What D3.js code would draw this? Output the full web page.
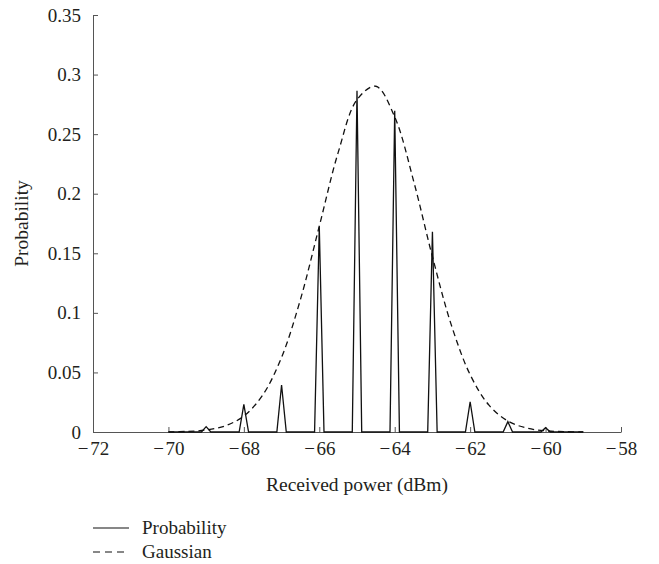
<!DOCTYPE html>
<html>
<head>
<meta charset="utf-8">
<script src="https://cdn.jsdelivr.net/npm/d3@7"></script>
<style>
  body { margin: 0; background: #fff; }
  text { font-family: "Liberation Serif", "DejaVu Serif", serif; fill: #231f20; }
  .axis path, .axis line { stroke: #555; }
</style>
</head>
<body>
<div id="chart"></div>
<script>
// Data
// =================================
var powerLevels = [-70, -69, -68, -67, -66, -65, -64, -63, -62, -61, -60, -59];
var probValues = [0, 0.0045, 0.0232, 0.0394, 0.1723, 0.2865, 0.2697, 0.168, 0.0254, 0.0087, 0.0036, 0];

var gaussX = [-70, -69.5, -69, -68.5, -68, -67.5, -67, -66.5, -66, -65.5, -65, -64.5,
  -64, -63.5, -63, -62.5, -62, -61.5, -61, -60.5, -60, -59.5, -59];
var gaussY = [0.0001, 0.0005, 0.0017, 0.0051, 0.0134, 0.031, 0.0627, 0.1112, 0.1727, 0.2345, 0.2789, 0.2902,
  0.2644, 0.2108, 0.1471, 0.0899, 0.0481, 0.0225, 0.0092, 0.0033, 0.001, 0.0003, 0.0001];

var xTicks = [-72, -70, -68, -66, -64, -62, -60, -58];
var yTicks = [0, 0.05, 0.1, 0.15, 0.2, 0.25, 0.3, 0.35];

var legendLabels = ["Probability", "Gaussian"];

// Chart setup
// =================================
var svgWidth = 659;
var svgHeight = 564;
var margin = { top: 15, right: 38, bottom: 132, left: 93 };
var width = svgWidth - margin.left - margin.right;
var height = svgHeight - margin.top - margin.bottom;

var svg = d3.select("#chart")
  .append("svg")
  .attr("width", svgWidth)
  .attr("height", svgHeight);

var chartGroup = svg.append("g")
  .attr("transform", `translate(${margin.left}, ${margin.top})`);

var xScale = d3.scaleLinear().domain([-72, -58]).range([0, width]);
var yScale = d3.scaleLinear().domain([0, 0.35]).range([height, 0]);

// Axes
// =================================
var bottomAxis = d3.axisBottom(xScale)
  .tickValues(xTicks)
  .tickSizeInner(-5)
  .tickSizeOuter(0)
  .tickPadding(10)
  .tickFormat(d => String(d).replace("-", "\u2212\u200A"));

var leftAxis = d3.axisLeft(yScale)
  .tickValues(yTicks)
  .tickSizeInner(-5)
  .tickSizeOuter(0)
  .tickPadding(12)
  .tickFormat(d => String(+d.toFixed(2)));

chartGroup.append("g")
  .attr("class", "axis")
  .attr("transform", `translate(0, ${height})`)
  .call(bottomAxis);

chartGroup.append("g")
  .attr("class", "axis")
  .call(leftAxis);

chartGroup.selectAll(".axis text")
  .attr("font-size", "19px")
  .attr("font-family", "Liberation Serif, serif")
  .attr("fill", "#231f20");

// Lines
// =================================
var spikeHalf = 0.125;
var probPoints = [[powerLevels[0], 0]];
powerLevels.forEach(function(x, i) {
  probPoints.push([x - spikeHalf, 0], [x, probValues[i]], [x + spikeHalf, 0]);
});
probPoints.push([powerLevels[powerLevels.length - 1], 0]);
probPoints = probPoints.filter(p => p[0] >= -70 && p[0] <= -59);

var probLine = d3.line()
  .x(d => xScale(d[0]))
  .y(d => yScale(d[1]));

chartGroup.append("path")
  .datum(probPoints)
  .attr("d", probLine)
  .attr("fill", "none")
  .attr("stroke", "#111")
  .attr("stroke-width", 1.3);

var gaussLine = d3.line()
  .x((d, i) => xScale(gaussX[i]))
  .y(d => yScale(d))
  .curve(d3.curveCatmullRom);

chartGroup.append("path")
  .datum(gaussY)
  .attr("d", gaussLine)
  .attr("fill", "none")
  .attr("stroke", "#111")
  .attr("stroke-width", 1.3)
  .attr("stroke-dasharray", "6,4");

// Axis labels
// =================================
chartGroup.append("text")
  .attr("transform", "rotate(-90)")
  .attr("x", -height / 2)
  .attr("y", -margin.left + 28)
  .attr("text-anchor", "middle")
  .attr("font-size", "19.5px")
  .text("Probability");

chartGroup.append("text")
  .attr("x", width / 2)
  .attr("y", height + 59)
  .attr("text-anchor", "middle")
  .attr("font-size", "19.5px")
  .text("Received power (dBm)");

// Legend
// =================================
var legend = svg.append("g").attr("transform", "translate(93, 528)");
legendLabels.forEach(function(label, i) {
  var row = legend.append("g").attr("transform", `translate(0, ${i * 24})`);
  row.append("line")
    .attr("x1", 0).attr("x2", 36)
    .attr("y1", 0).attr("y2", 0)
    .attr("stroke", "#111")
    .attr("stroke-width", 1.2)
    .attr("stroke-dasharray", i === 1 ? "7,5" : null);
  row.append("text")
    .attr("x", 49)
    .attr("y", 6)
    .attr("font-size", "19px")
    .text(label);
});
</script>
</body>
</html>
